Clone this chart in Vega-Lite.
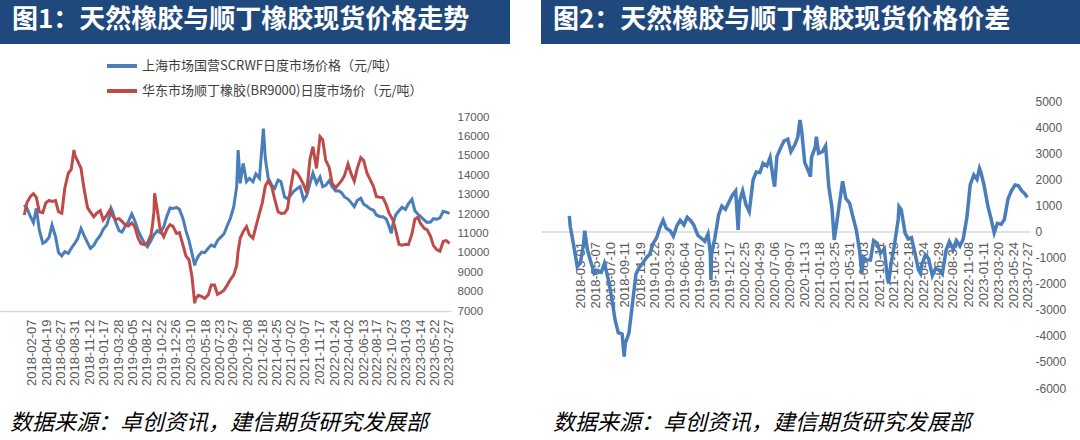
{
  "$schema": "https://vega.github.io/schema/vega-lite/v6.json",
  "background": "white",
  "padding": 0,
  "config": {
    "view": {"stroke": null},
    "font": "Noto Sans CJK SC",
    "axis": {"labelFont": "Liberation Sans", "labelColor": "#595959"}
  },
  "datasets": {
    "px": [
      {"d":"2018-01-02","sh":12470,"hd":11950},
      {"d":"2018-01-15","sh":12290,"hd":12590},
      {"d":"2018-02-01","sh":11860,"hd":12910},
      {"d":"2018-02-15","sh":11550,"hd":13050},
      {"d":"2018-03-01","sh":12290,"hd":12860},
      {"d":"2018-03-15","sh":11180,"hd":12120},
      {"d":"2018-04-01","sh":10490,"hd":12070},
      {"d":"2018-04-15","sh":10580,"hd":12570},
      {"d":"2018-05-01","sh":10800,"hd":12700},
      {"d":"2018-05-15","sh":11430,"hd":12650},
      {"d":"2018-06-01","sh":10830,"hd":12690},
      {"d":"2018-06-15","sh":10010,"hd":12120},
      {"d":"2018-07-01","sh":9840,"hd":12040},
      {"d":"2018-07-15","sh":10060,"hd":13320},
      {"d":"2018-08-01","sh":9970,"hd":14100},
      {"d":"2018-08-15","sh":10230,"hd":14300},
      {"d":"2018-08-28","hd":15300},
      {"d":"2018-09-01","sh":10490,"hd":15040},
      {"d":"2018-09-15","sh":10730,"hd":14720},
      {"d":"2018-10-01","sh":11250,"hd":14350},
      {"d":"2018-10-15","sh":10900,"hd":13320},
      {"d":"2018-11-01","sh":10520,"hd":12330},
      {"d":"2018-11-15","sh":10230,"hd":12100},
      {"d":"2018-12-01","sh":10390,"hd":11860},
      {"d":"2018-12-15","sh":10660,"hd":12040},
      {"d":"2019-01-01","sh":10900,"hd":12170},
      {"d":"2019-01-15","sh":11210,"hd":11690},
      {"d":"2019-02-01","sh":11430,"hd":11930},
      {"d":"2019-02-15","sh":11900,"hd":12190},
      {"d":"2019-02-22","sh":12290},
      {"d":"2019-03-01","sh":12120,"hd":11900},
      {"d":"2019-03-15","sh":11600,"hd":11710},
      {"d":"2019-04-01","sh":11140,"hd":11760},
      {"d":"2019-04-15","sh":11070,"hd":11620},
      {"d":"2019-05-01","sh":11380,"hd":11430},
      {"d":"2019-05-15","sh":11590,"hd":11380},
      {"d":"2019-06-01","sh":12000,"hd":11540},
      {"d":"2019-06-15","sh":11660,"hd":11350},
      {"d":"2019-07-01","sh":11160,"hd":10760},
      {"d":"2019-07-15","sh":10830,"hd":10470},
      {"d":"2019-08-01","sh":10490,"hd":10420},
      {"d":"2019-08-15","sh":10320,"hd":10520},
      {"d":"2019-09-01","sh":10630,"hd":10920},
      {"d":"2019-09-08","hd":11430},
      {"d":"2019-09-15","sh":10930,"hd":12120},
      {"d":"2019-09-18","hd":13070},
      {"d":"2019-10-01","sh":11140,"hd":12210},
      {"d":"2019-10-15","sh":11040,"hd":11180},
      {"d":"2019-11-01","sh":11350,"hd":10830},
      {"d":"2019-11-15","sh":11860,"hd":11210},
      {"d":"2019-12-01","sh":12310,"hd":11450},
      {"d":"2019-12-15","sh":12280,"hd":11360},
      {"d":"2020-01-01","sh":12340,"hd":11000},
      {"d":"2020-01-15","sh":12240,"hd":11040},
      {"d":"2020-02-01","sh":11760,"hd":10400},
      {"d":"2020-02-15","sh":11140,"hd":9840},
      {"d":"2020-03-01","sh":10630,"hd":9630},
      {"d":"2020-03-15","sh":9970,"hd":8770},
      {"d":"2020-03-28","sh":9350,"hd":7400},
      {"d":"2020-04-01","sh":9530,"hd":7620},
      {"d":"2020-04-15","sh":9840,"hd":7810},
      {"d":"2020-05-01","sh":10040,"hd":7740},
      {"d":"2020-05-15","sh":10010,"hd":7650},
      {"d":"2020-06-01","sh":10230,"hd":7830},
      {"d":"2020-06-15","sh":10400,"hd":8340},
      {"d":"2020-07-01","sh":10320,"hd":8340},
      {"d":"2020-07-15","sh":10630,"hd":7860},
      {"d":"2020-08-01","sh":10820,"hd":7950},
      {"d":"2020-08-15","sh":10970,"hd":8070},
      {"d":"2020-09-01","sh":11430,"hd":8360},
      {"d":"2020-09-15","sh":11780,"hd":8620},
      {"d":"2020-10-01","sh":12380,"hd":8860},
      {"d":"2020-10-15","sh":13410,"hd":9350},
      {"d":"2020-10-22","sh":15300,"hd":10100},
      {"d":"2020-11-01","sh":13580,"hd":10750},
      {"d":"2020-11-15","sh":14610,"hd":11090},
      {"d":"2020-12-01","sh":13670,"hd":11350},
      {"d":"2020-12-15","sh":13840,"hd":10920},
      {"d":"2021-01-01","sh":13670,"hd":10750},
      {"d":"2021-01-15","sh":14060,"hd":11350},
      {"d":"2021-02-01","sh":13840,"hd":12030},
      {"d":"2021-02-15","sh":15730,"hd":12590},
      {"d":"2021-02-20","sh":16400},
      {"d":"2021-03-01","sh":14870,"hd":13440},
      {"d":"2021-03-15","sh":13840,"hd":13700},
      {"d":"2021-04-01","sh":13480,"hd":13410},
      {"d":"2021-04-15","sh":13320,"hd":12760},
      {"d":"2021-05-01","sh":13750,"hd":12120},
      {"d":"2021-05-15","sh":13670,"hd":12030},
      {"d":"2021-06-01","sh":12890,"hd":12050},
      {"d":"2021-06-15","sh":12790,"hd":12260},
      {"d":"2021-07-01","sh":12980,"hd":13370},
      {"d":"2021-07-15","sh":13170,"hd":14250},
      {"d":"2021-08-01","sh":13310,"hd":14110},
      {"d":"2021-08-15","sh":13410,"hd":13860},
      {"d":"2021-09-01","sh":12720,"hd":13500},
      {"d":"2021-09-15","sh":12950,"hd":13100},
      {"d":"2021-10-01","sh":13580,"hd":14840},
      {"d":"2021-10-15","sh":14100,"hd":15470},
      {"d":"2021-11-01","sh":13580,"hd":14350},
      {"d":"2021-11-18","sh":13900,"hd":15990},
      {"d":"2021-12-01","sh":13410,"hd":15820},
      {"d":"2021-12-15","sh":13480,"hd":14780},
      {"d":"2022-01-01","sh":13720,"hd":14400},
      {"d":"2022-01-15","sh":13410,"hd":13580},
      {"d":"2022-02-01","sh":13190,"hd":13360},
      {"d":"2022-02-15","sh":13200,"hd":13530},
      {"d":"2022-03-01","sh":13100,"hd":13720},
      {"d":"2022-03-15","sh":12880,"hd":13980},
      {"d":"2022-04-01","sh":12770,"hd":14580},
      {"d":"2022-04-15","sh":12600,"hd":14100},
      {"d":"2022-05-01","sh":12380,"hd":13690},
      {"d":"2022-05-15","sh":12690,"hd":14340},
      {"d":"2022-06-01","sh":12810,"hd":14900},
      {"d":"2022-06-15","sh":12500,"hd":14750},
      {"d":"2022-07-01","sh":12400,"hd":14100},
      {"d":"2022-07-15","sh":12270,"hd":13800},
      {"d":"2022-08-01","sh":12190,"hd":13410},
      {"d":"2022-08-15","sh":11950,"hd":12890},
      {"d":"2022-09-01","sh":11860,"hd":12860},
      {"d":"2022-09-15","sh":11860,"hd":12840},
      {"d":"2022-10-01","sh":11740,"hd":12480},
      {"d":"2022-10-15","sh":11350,"hd":12030},
      {"d":"2022-10-25","sh":11000},
      {"d":"2022-11-01","sh":11430,"hd":11710},
      {"d":"2022-11-15","sh":11950,"hd":11180},
      {"d":"2022-12-01","sh":12170,"hd":10440},
      {"d":"2022-12-15","sh":12340,"hd":10390},
      {"d":"2023-01-01","sh":12240,"hd":10440},
      {"d":"2023-01-15","sh":12520,"hd":10420},
      {"d":"2023-02-01","sh":12760,"hd":10970},
      {"d":"2023-02-15","sh":12170,"hd":11730},
      {"d":"2023-03-01","sh":12000,"hd":11830},
      {"d":"2023-03-15","sh":11860,"hd":11500},
      {"d":"2023-04-01","sh":11690,"hd":11260},
      {"d":"2023-04-15","sh":11570,"hd":11180},
      {"d":"2023-05-01","sh":11590,"hd":10850},
      {"d":"2023-05-15","sh":11760,"hd":10370},
      {"d":"2023-06-01","sh":11730,"hd":10150},
      {"d":"2023-06-15","sh":11800,"hd":10080},
      {"d":"2023-07-01","sh":12140,"hd":10590},
      {"d":"2023-07-15","sh":12100,"hd":10630},
      {"d":"2023-07-31","sh":12035,"hd":10490}
    ],
    "df": [
      {"d":"2018-01-11","v":600},
      {"d":"2018-01-15","v":200},
      {"d":"2018-02-01","v":-620},
      {"d":"2018-02-15","v":-1350},
      {"d":"2018-03-01","v":-1200},
      {"d":"2018-03-15","v":-455},
      {"d":"2018-03-20","v":30},
      {"d":"2018-04-01","v":-711},
      {"d":"2018-04-15","v":-1145},
      {"d":"2018-05-01","v":-1605},
      {"d":"2018-05-15","v":-1500},
      {"d":"2018-06-01","v":-1570},
      {"d":"2018-06-15","v":-1222},
      {"d":"2018-07-01","v":-1797},
      {"d":"2018-07-15","v":-2436},
      {"d":"2018-08-01","v":-3394},
      {"d":"2018-08-15","v":-3880},
      {"d":"2018-09-01","v":-3930},
      {"d":"2018-09-10","v":-4800},
      {"d":"2018-09-15","v":-4290},
      {"d":"2018-10-01","v":-3900},
      {"d":"2018-10-15","v":-2883},
      {"d":"2018-11-01","v":-1630},
      {"d":"2018-11-15","v":-1390},
      {"d":"2018-12-01","v":-1222},
      {"d":"2018-12-15","v":-1030},
      {"d":"2019-01-01","v":-864},
      {"d":"2019-01-15","v":-480},
      {"d":"2019-02-01","v":-225},
      {"d":"2019-02-15","v":160},
      {"d":"2019-03-01","v":427},
      {"d":"2019-03-15","v":120},
      {"d":"2019-04-01","v":30},
      {"d":"2019-04-15","v":-187},
      {"d":"2019-05-01","v":222},
      {"d":"2019-05-15","v":427},
      {"d":"2019-06-01","v":248},
      {"d":"2019-06-15","v":542},
      {"d":"2019-07-01","v":414},
      {"d":"2019-07-15","v":235},
      {"d":"2019-08-01","v":-148},
      {"d":"2019-08-15","v":-250},
      {"d":"2019-09-01","v":-378},
      {"d":"2019-09-15","v":-97},
      {"d":"2019-09-25","v":-838},
      {"d":"2019-09-28","v":-1861},
      {"d":"2019-10-01","v":-838},
      {"d":"2019-10-15","v":-263},
      {"d":"2019-11-01","v":631},
      {"d":"2019-11-15","v":976},
      {"d":"2019-12-01","v":849},
      {"d":"2019-12-15","v":1104},
      {"d":"2020-01-01","v":1398},
      {"d":"2020-01-15","v":1552},
      {"d":"2020-01-26","v":57},
      {"d":"2020-02-01","v":1143},
      {"d":"2020-02-15","v":1552},
      {"d":"2020-03-01","v":1015},
      {"d":"2020-03-15","v":760},
      {"d":"2020-04-01","v":1973},
      {"d":"2020-04-15","v":2280},
      {"d":"2020-05-01","v":2255},
      {"d":"2020-05-15","v":2612},
      {"d":"2020-06-01","v":2510},
      {"d":"2020-06-15","v":2830},
      {"d":"2020-07-01","v":1910},
      {"d":"2020-07-05","v":1717},
      {"d":"2020-07-15","v":2868},
      {"d":"2020-08-01","v":3213},
      {"d":"2020-08-15","v":3468},
      {"d":"2020-09-01","v":3533},
      {"d":"2020-09-15","v":3060},
      {"d":"2020-10-01","v":3300},
      {"d":"2020-10-15","v":3610},
      {"d":"2020-10-25","v":4274},
      {"d":"2020-11-01","v":3890},
      {"d":"2020-11-15","v":2638},
      {"d":"2020-12-01","v":2318},
      {"d":"2020-12-10","v":2101},
      {"d":"2020-12-15","v":2842},
      {"d":"2021-01-01","v":3251},
      {"d":"2021-01-05","v":3635},
      {"d":"2021-01-15","v":2996},
      {"d":"2021-02-01","v":3060},
      {"d":"2021-02-15","v":3277},
      {"d":"2021-03-01","v":1717},
      {"d":"2021-03-15","v":912},
      {"d":"2021-03-25","v":-327},
      {"d":"2021-04-01","v":82},
      {"d":"2021-04-15","v":951},
      {"d":"2021-05-01","v":1922},
      {"d":"2021-05-15","v":1270},
      {"d":"2021-06-01","v":1079},
      {"d":"2021-06-15","v":580},
      {"d":"2021-07-01","v":30},
      {"d":"2021-07-15","v":-750},
      {"d":"2021-07-25","v":-1605},
      {"d":"2021-08-01","v":-990},
      {"d":"2021-08-15","v":-1094},
      {"d":"2021-09-01","v":-1094},
      {"d":"2021-09-15","v":-353},
      {"d":"2021-10-01","v":-455},
      {"d":"2021-10-15","v":-838},
      {"d":"2021-11-01","v":-670},
      {"d":"2021-11-15","v":-1797},
      {"d":"2021-11-20","v":-1988},
      {"d":"2021-12-01","v":-1222},
      {"d":"2021-12-15","v":-557},
      {"d":"2022-01-01","v":440},
      {"d":"2022-01-05","v":951},
      {"d":"2022-01-15","v":823},
      {"d":"2022-02-01","v":-72},
      {"d":"2022-02-15","v":-288},
      {"d":"2022-03-01","v":-238},
      {"d":"2022-03-15","v":-775},
      {"d":"2022-04-01","v":-1477},
      {"d":"2022-04-10","v":-1605},
      {"d":"2022-04-15","v":-1285},
      {"d":"2022-05-01","v":-902},
      {"d":"2022-05-15","v":-1030},
      {"d":"2022-06-01","v":-1695},
      {"d":"2022-06-15","v":-1414},
      {"d":"2022-07-01","v":-1490},
      {"d":"2022-07-15","v":-1630},
      {"d":"2022-08-01","v":-711},
      {"d":"2022-08-15","v":-391},
      {"d":"2022-09-01","v":-685},
      {"d":"2022-09-15","v":-353},
      {"d":"2022-10-01","v":-557},
      {"d":"2022-10-15","v":-302},
      {"d":"2022-11-01","v":567},
      {"d":"2022-11-15","v":1782},
      {"d":"2022-12-01","v":2165},
      {"d":"2022-12-15","v":1999},
      {"d":"2022-12-26","v":2420},
      {"d":"2023-01-01","v":2280},
      {"d":"2023-01-15","v":1782},
      {"d":"2023-02-01","v":976},
      {"d":"2023-02-15","v":491},
      {"d":"2023-03-01","v":-59},
      {"d":"2023-03-15","v":312},
      {"d":"2023-04-01","v":273},
      {"d":"2023-04-15","v":465},
      {"d":"2023-05-01","v":1245},
      {"d":"2023-05-15","v":1539},
      {"d":"2023-06-01","v":1782},
      {"d":"2023-06-15","v":1756},
      {"d":"2023-07-01","v":1552},
      {"d":"2023-07-15","v":1437},
      {"d":"2023-07-25","v":1300}
    ]
  },
  "spacing": 31,
  "resolve": {"scale": {"color": "independent"}, "legend": {"color": "independent"}},
  "hconcat": [
    {
      "columns": 1,
      "align": "none",
      "spacing": 5,
      "resolve": {"scale": {"color": "independent"}, "legend": {"color": "independent"}},
      "concat": [
        {
          "width": 510,
          "height": 44,
          "view": {"fill": "#1f497d", "stroke": null},
          "data": {"values": [{"k": 1}]},
          "mark": {"type": "rect", "color": "#1f497d"},
          "encoding": {},
          "title": {"text": "图1：天然橡胶与顺丁橡胶现货价格走势", "orient": "top", "anchor": "start", "frame": "group", "offset": -54, "dx": 12, "baseline": "alphabetic", "fontSize": 26, "fontWeight": "bold", "color": "#ffffff", "font": "Noto Sans CJK SC"}
        },
        {
          "width": 451,
          "height": 194,
          "data": {"name": "px"},
          "title": {"text": "数据来源：卓创资讯，建信期货研究发展部", "orient": "bottom", "anchor": "start", "frame": "bounds", "dx": 10, "offset": 28, "baseline": "top", "fontSize": 22, "fontStyle": "italic", "fontWeight": "normal", "color": "#000000", "font": "Noto Sans CJK SC"},
          "encoding": {
            "x": {
              "field": "d", "type": "temporal",
              "scale": {"type": "utc", "domain": [{"year":2017,"month":9,"date":8,"utc":true},{"year":2023,"month":8,"date":7,"utc":true}]},
              "axis": {
                "orient": "bottom", "title": null, "format": "%Y-%m-%d", "labelAngle": -90, "labelPadding": 8,
                "ticks": false, "grid": false, "domain": true, "domainColor": "#d9d9d9", "domainWidth": 1.5,
                "labelFontSize": 13, "labelOverlap": false, "labelFlush": false, "labelBound": false,
                "values": [
                  {"year":2018,"month":2,"date":7,"utc":true},
                  {"year":2018,"month":4,"date":19,"utc":true},
                  {"year":2018,"month":6,"date":27,"utc":true},
                  {"year":2018,"month":8,"date":31,"utc":true},
                  {"year":2018,"month":11,"date":12,"utc":true},
                  {"year":2019,"month":1,"date":17,"utc":true},
                  {"year":2019,"month":3,"date":28,"utc":true},
                  {"year":2019,"month":6,"date":5,"utc":true},
                  {"year":2019,"month":8,"date":12,"utc":true},
                  {"year":2019,"month":10,"date":22,"utc":true},
                  {"year":2019,"month":12,"date":26,"utc":true},
                  {"year":2020,"month":3,"date":10,"utc":true},
                  {"year":2020,"month":5,"date":18,"utc":true},
                  {"year":2020,"month":7,"date":23,"utc":true},
                  {"year":2020,"month":9,"date":27,"utc":true},
                  {"year":2020,"month":12,"date":8,"utc":true},
                  {"year":2021,"month":2,"date":18,"utc":true},
                  {"year":2021,"month":4,"date":25,"utc":true},
                  {"year":2021,"month":7,"date":2,"utc":true},
                  {"year":2021,"month":9,"date":7,"utc":true},
                  {"year":2021,"month":11,"date":17,"utc":true},
                  {"year":2022,"month":1,"date":24,"utc":true},
                  {"year":2022,"month":4,"date":2,"utc":true},
                  {"year":2022,"month":6,"date":13,"utc":true},
                  {"year":2022,"month":8,"date":17,"utc":true},
                  {"year":2022,"month":10,"date":27,"utc":true},
                  {"year":2023,"month":1,"date":3,"utc":true},
                  {"year":2023,"month":3,"date":14,"utc":true},
                  {"year":2023,"month":5,"date":22,"utc":true},
                  {"year":2023,"month":7,"date":27,"utc":true}
                ]
              }
            }
          },
          "layer": [
            {
              "mark": {"type": "line", "strokeWidth": 3, "invalid": "filter"},
              "encoding": {
                "y": {
                  "field": "sh", "type": "quantitative",
                  "scale": {"domain": [7000, 17000], "zero": false},
                  "axis": {"orient": "right", "title": null, "values": [7000,8000,9000,10000,11000,12000,13000,14000,15000,16000,17000], "format": "d", "ticks": false, "domain": false, "grid": false, "labelPadding": 6, "labelFontSize": 11.5}
                },
                "color": {
                  "datum": "上海市场国营SCRWF日度市场价格（元/吨）",
                  "scale": {"domain": ["上海市场国营SCRWF日度市场价格（元/吨）", "华东市场顺丁橡胶(BR9000)日度市场价（元/吨）"], "range": ["#4a7ebb", "#be4b48"]},
                  "legend": {"orient": "none", "legendX": 105, "legendY": -68, "direction": "vertical", "title": null, "symbolType": "stroke", "symbolSize": 900, "symbolStrokeWidth": 4, "labelFontSize": 13, "labelFont": "Noto Sans CJK SC", "labelColor": "#404040", "labelLimit": 500, "labelOffset": 3, "rowPadding": -6, "padding": 0}
                }
              }
            },
            {
              "mark": {"type": "line", "strokeWidth": 3, "invalid": "filter"},
              "encoding": {
                "y": {"field": "hd", "type": "quantitative", "axis": null},
                "color": {"datum": "华东市场顺丁橡胶(BR9000)日度市场价（元/吨）"}
              }
            }
          ],
          "resolve": {"axis": {"y": "independent"}}
        }
      ]
    },
    {
      "columns": 1,
      "align": "none",
      "spacing": 51,
      "concat": [
        {
          "width": 539,
          "height": 44,
          "view": {"fill": "#1f497d", "stroke": null},
          "data": {"values": [{"k": 1}]},
          "mark": {"type": "rect", "color": "#1f497d"},
          "encoding": {},
          "title": {"text": "图2：天然橡胶与顺丁橡胶现货价格价差", "orient": "top", "anchor": "start", "frame": "group", "offset": -54, "dx": 12, "baseline": "alphabetic", "fontSize": 26, "fontWeight": "bold", "color": "#ffffff", "font": "Noto Sans CJK SC"}
        },
        {
          "width": 489,
          "height": 287,
          "data": {"name": "df"},
          "title": {"text": "数据来源：卓创资讯，建信期货研究发展部", "orient": "bottom", "anchor": "start", "frame": "bounds", "dx": 12, "offset": 19, "baseline": "top", "fontSize": 22, "fontStyle": "italic", "fontWeight": "normal", "color": "#000000", "font": "Noto Sans CJK SC"},
          "mark": {"type": "line", "color": "#4a7ebb", "strokeWidth": 3.5},
          "encoding": {
            "x": {
              "field": "d", "type": "temporal",
              "scale": {"type": "utc", "domain": [{"year":2017,"month":9,"date":8,"utc":true},{"year":2023,"month":8,"date":6,"utc":true}]},
              "axis": {
                "orient": "bottom", "offset": -156.5, "title": null, "format": "%Y-%m-%d", "labelAngle": -90, "labelPadding": 10,
                "ticks": false, "grid": false, "domain": true, "domainColor": "#d9d9d9", "domainWidth": 1.5,
                "labelFontSize": 13, "labelOverlap": false, "labelFlush": false, "labelBound": false,
                "values": [
                  {"year":2018,"month":3,"date":1,"utc":true},
                  {"year":2018,"month":5,"date":7,"utc":true},
                  {"year":2018,"month":7,"date":10,"utc":true},
                  {"year":2018,"month":9,"date":11,"utc":true},
                  {"year":2018,"month":11,"date":19,"utc":true},
                  {"year":2019,"month":1,"date":22,"utc":true},
                  {"year":2019,"month":3,"date":29,"utc":true},
                  {"year":2019,"month":6,"date":4,"utc":true},
                  {"year":2019,"month":8,"date":7,"utc":true},
                  {"year":2019,"month":10,"date":15,"utc":true},
                  {"year":2019,"month":12,"date":17,"utc":true},
                  {"year":2020,"month":2,"date":25,"utc":true},
                  {"year":2020,"month":4,"date":29,"utc":true},
                  {"year":2020,"month":7,"date":6,"utc":true},
                  {"year":2020,"month":9,"date":7,"utc":true},
                  {"year":2020,"month":11,"date":13,"utc":true},
                  {"year":2021,"month":1,"date":18,"utc":true},
                  {"year":2021,"month":3,"date":25,"utc":true},
                  {"year":2021,"month":5,"date":31,"utc":true},
                  {"year":2021,"month":8,"date":3,"utc":true},
                  {"year":2021,"month":10,"date":11,"utc":true},
                  {"year":2021,"month":12,"date":13,"utc":true},
                  {"year":2022,"month":2,"date":18,"utc":true},
                  {"year":2022,"month":4,"date":24,"utc":true},
                  {"year":2022,"month":6,"date":29,"utc":true},
                  {"year":2022,"month":8,"date":31,"utc":true},
                  {"year":2022,"month":11,"date":8,"utc":true},
                  {"year":2023,"month":1,"date":11,"utc":true},
                  {"year":2023,"month":3,"date":20,"utc":true},
                  {"year":2023,"month":5,"date":24,"utc":true},
                  {"year":2023,"month":7,"date":27,"utc":true}
                ]
              }
            },
            "y": {
              "field": "v", "type": "quantitative",
              "scale": {"domain": [-6000, 5000]},
              "axis": {"orient": "right", "title": null, "values": [-6000,-5000,-4000,-3000,-2000,-1000,0,1000,2000,3000,4000,5000], "labelExpr": "'' + datum.value", "ticks": false, "domain": false, "grid": false, "labelPadding": 5, "labelFontSize": 12}
            }
          }
        }
      ]
    }
  ]
}
